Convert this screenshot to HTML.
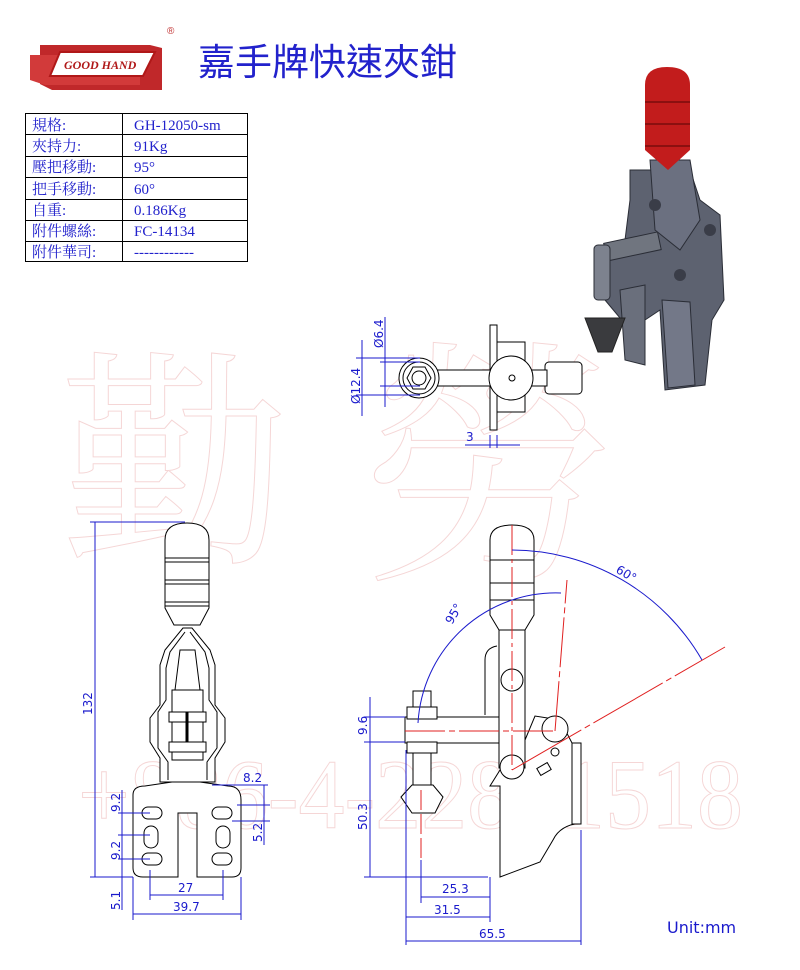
<!DOCTYPE html>
<html><head><meta charset="utf-8"><style>
body{margin:0;background:#fff;}
svg{display:block}
</style></head><body>
<svg width="800" height="970" viewBox="0 0 800 970" xmlns="http://www.w3.org/2000/svg">
<!-- watermark -->
<g fill="none" stroke="#f5d6d6" stroke-width="1">
<text x="78" y="828" font-family="Liberation Serif, serif" font-size="100" textLength="665" lengthAdjust="spacingAndGlyphs">+886-4-22801518</text>
<text x="60" y="545" font-family="Liberation Serif, 'Noto Serif CJK SC', serif" font-size="230">勤</text>
<text x="360" y="560" font-family="Liberation Serif, 'Noto Serif CJK SC', serif" font-size="260">勞</text>
</g>
<!-- logo -->
<g>
<path d="M40 45 H150 L162 48 V90 H52 L40 84 Z" fill="#c0282a"/>
<path d="M30 55 H140 V85 H45 L30 80 Z" fill="#d23a3a"/>
<path d="M60 52 H155 L143 76 H50 Z" fill="#fff" stroke="#b01818" stroke-width="2"/>
<text x="64" y="69" font-family="Liberation Serif, serif" font-style="italic" font-weight="bold" font-size="12" fill="#b01818">GOOD HAND</text>
<text x="167" y="34" font-family="Liberation Sans, sans-serif" font-size="10" fill="#c03030">®</text>
</g>
<text x="198" y="75" font-family="'Liberation Sans','Noto Sans CJK TC',sans-serif" font-size="37" fill="#2222cc">嘉手牌快速夾鉗</text>
<!-- table -->
<g stroke="#000" stroke-width="1" fill="none">
<rect x="25.5" y="113.5" width="222" height="148"/>
<line x1="122.5" y1="113" x2="122.5" y2="262"/>
<line x1="25" y1="134.5" x2="248" y2="134.5"/>
<line x1="25" y1="156.5" x2="248" y2="156.5"/>
<line x1="25" y1="177.5" x2="248" y2="177.5"/>
<line x1="25" y1="199.5" x2="248" y2="199.5"/>
<line x1="25" y1="220.5" x2="248" y2="220.5"/>
<line x1="25" y1="241.5" x2="248" y2="241.5"/>
</g>
<g font-family="'Liberation Serif','Noto Serif CJK SC',serif" font-size="15" fill="#2222cc">
<text x="32" y="130">規格:</text><text x="134" y="130">GH-12050-sm</text>
<text x="32" y="151">夾持力:</text><text x="134" y="151">91Kg</text>
<text x="32" y="172">壓把移動:</text><text x="134" y="172">95°</text>
<text x="32" y="194">把手移動:</text><text x="134" y="194">60°</text>
<text x="32" y="215">自重:</text><text x="134" y="215">0.186Kg</text>
<text x="32" y="236">附件螺絲:</text><text x="134" y="236">FC-14134</text>
<text x="32" y="257">附件華司:</text><text x="134" y="257">------------</text>
</g>
<!-- photo -->
<g>
<path d="M630 170 L690 170 L700 200 L720 215 L724 300 L712 320 L705 385 L665 390 L660 310 L630 330 L605 300 L600 250 L625 240 L630 200 Z" fill="#5d6270" stroke="#2a2d36"/>
<path d="M620 290 L645 285 L645 365 L625 360 Z" fill="#6a6f7c" stroke="#2a2d36"/>
<path d="M662 300 L690 302 L695 385 L668 388 Z" fill="#737888" stroke="#2a2d36"/>
<rect x="605" y="238" width="55" height="18" fill="#70757f" stroke="#2a2d36" transform="rotate(-12 630 247)"/>
<rect x="594" y="245" width="16" height="55" rx="4" fill="#7d828e" stroke="#2a2d36"/>
<path d="M585 318 L625 318 L612 352 L598 352 Z" fill="#3a3b3e" stroke="#222"/>
<path d="M650 160 L690 160 L700 220 L680 250 L655 230 Z" fill="#6b7080" stroke="#2a2d36"/>
<path d="M645 85 Q645 67 667 67 Q690 67 690 85 V150 L668 170 L645 150 Z" fill="#c21c1c"/>
<g stroke="#7a0c0c" stroke-width="1.5"><line x1="645" y1="102" x2="690" y2="102"/><line x1="645" y1="124" x2="690" y2="124"/><line x1="645" y1="146" x2="690" y2="146"/></g>
<circle cx="655" cy="205" r="6" fill="#3a3d48"/><circle cx="680" cy="275" r="6" fill="#3a3d48"/><circle cx="710" cy="230" r="6" fill="#3a3d48"/>
</g>
<!-- top view -->
<g stroke="#000" stroke-width="1" fill="#fff">
<rect x="490" y="325" width="7" height="105"/>
<rect x="497" y="342" width="28" height="70"/>
<rect x="545" y="362" width="37" height="32" rx="4"/>
<rect x="435" y="370" width="112" height="16"/>
<circle cx="419" cy="378" r="20"/>
<circle cx="419" cy="378" r="16"/>
<polygon points="431,378 425,367 413,367 407,378 413,389 425,389"/>
<circle cx="419" cy="378" r="7"/>
<circle cx="511" cy="378" r="22"/>
<circle cx="512" cy="378" r="3"/>
</g>
<g stroke="#1a1acc" stroke-width="1" fill="none">
<line x1="362" y1="340" x2="362" y2="416"/><line x1="356" y1="358" x2="420" y2="358"/><line x1="356" y1="395" x2="420" y2="395"/>
<line x1="385" y1="317" x2="385" y2="407"/><line x1="380" y1="362" x2="420" y2="362"/><line x1="380" y1="386" x2="420" y2="386"/>
<line x1="490" y1="435" x2="490" y2="448"/><line x1="497" y1="435" x2="497" y2="448"/>
<line x1="465" y1="445" x2="520" y2="445"/>
</g>
<g font-family="'DejaVu Sans',sans-serif" font-size="12" fill="#1a1acc">
<text transform="translate(383,348) rotate(-90)">Ø6.4</text>
<text transform="translate(360,404) rotate(-90)">Ø12.4</text>
<text x="466" y="441">3</text>
</g>
<!-- front view -->
<g stroke="#000" stroke-width="1" fill="#fff">
<path d="M133 795 Q133 786 145 786 L172 782 L200 782 L228 786 Q241 786 241 800 V868 Q241 877 232 877 H197 V813 H178 V877 H143 Q133 877 133 868 Z"/>
<path d="M183 628 L165 650 L160 665 V705 L150 718 V742 L160 758 V782 L215 782 V758 L225 742 V718 L215 705 V665 L210 650 L192 628 Z"/>
<path d="M185 632 L170 652 L166 668 V700 L158 712 V748 L168 762 V780 M190 632 L205 652 L209 668 V700 L217 712 V748 L207 762 V780"/>
<path d="M180 650 H195 L200 690 H175 Z"/>
<rect x="172" y="690" width="31" height="70"/>
<rect x="169" y="712" width="37" height="10"/><rect x="169" y="742" width="37" height="10"/>
<line x1="187" y1="712" x2="187" y2="742" stroke-width="3"/>
<path d="M165 540 Q165 523 187 523 Q209 523 209 540 V608 L200 625 H174 L165 608 Z"/>
<line x1="165" y1="558" x2="209" y2="558"/><line x1="165" y1="562" x2="209" y2="562"/>
<line x1="165" y1="580" x2="209" y2="580"/><line x1="165" y1="584" x2="209" y2="584"/>
<line x1="165" y1="602" x2="209" y2="602"/><line x1="165" y1="606" x2="209" y2="606"/>
<rect x="142" y="807" width="20" height="12" rx="6"/><rect x="212" y="807" width="20" height="12" rx="6"/>
<rect x="144" y="826" width="14" height="22" rx="7"/><rect x="216" y="826" width="14" height="22" rx="7"/>
<rect x="142" y="853" width="20" height="12" rx="6"/><rect x="212" y="853" width="20" height="12" rx="6"/>
</g>
<g stroke="#1a1acc" stroke-width="1" fill="none">
<line x1="95" y1="522" x2="95" y2="877"/><line x1="90" y1="522" x2="185" y2="522"/><line x1="90" y1="877" x2="133" y2="877"/>
<line x1="122" y1="790" x2="122" y2="910"/>
<line x1="118" y1="813" x2="150" y2="813"/><line x1="118" y1="835" x2="150" y2="835"/><line x1="118" y1="859" x2="150" y2="859"/>
<line x1="150" y1="870" x2="150" y2="900"/><line x1="223" y1="870" x2="223" y2="900"/>
<line x1="150" y1="895" x2="223" y2="895"/>
<line x1="133" y1="877" x2="133" y2="920"/><line x1="241" y1="877" x2="241" y2="920"/>
<line x1="133" y1="914" x2="241" y2="914"/>
<line x1="212" y1="785" x2="268" y2="785"/><line x1="237" y1="805" x2="270" y2="805"/><line x1="232" y1="821" x2="270" y2="821"/>
<line x1="264" y1="785" x2="264" y2="845"/>
</g>
<g font-family="'DejaVu Sans',sans-serif" font-size="12" fill="#1a1acc">
<text transform="translate(92,715) rotate(-90)">132</text>
<text transform="translate(120,812) rotate(-90)">9.2</text>
<text transform="translate(120,860) rotate(-90)">9.2</text>
<text transform="translate(120,910) rotate(-90)">5.1</text>
<text x="178" y="892">27</text><text x="173" y="911">39.7</text>
<text x="243" y="782">8.2</text>
<text transform="translate(262,842) rotate(-90)">5.2</text>
</g>
<!-- side view -->
<g stroke="#000" stroke-width="1" fill="#fff">
<path d="M490 786 H500 V877 L540 862 L553 840 Q560 825 581 823 V743 L572 743 L560 720 L535 716 L525 740 L525 760 L500 770 Z"/>
<rect x="572" y="743" width="9" height="81"/>
<rect x="405" y="717" width="95" height="26"/>
<path d="M485 715 V660 Q485 648 497 646"/>
<rect x="499" y="618" width="26" height="150"/>
<path d="M490 540 Q490 525 512 525 Q534 525 534 540 V615 L525 630 H499 L490 615 Z"/>
<line x1="490" y1="560" x2="534" y2="560"/><line x1="490" y1="583" x2="534" y2="583"/><line x1="490" y1="600" x2="534" y2="600"/>
<circle cx="512" cy="680" r="11"/>
<circle cx="512" cy="767" r="12"/>
<circle cx="555" cy="729" r="13"/>
<circle cx="555" cy="752" r="4"/>
<rect x="538" y="765" width="12" height="8" transform="rotate(-30 544 769)"/>
<rect x="413" y="691" width="18" height="17"/>
<rect x="407" y="707" width="30" height="12"/>
<rect x="407" y="742" width="30" height="11"/>
<rect x="413" y="753" width="18" height="32"/>
<path d="M401 797 L412 785 H433 L443 797 L435 813 H412 Z"/>
</g>
<g stroke="#e02020" stroke-width="1" fill="none">
<line x1="512" y1="525" x2="512" y2="770" stroke-dasharray="30 4 4 4"/>
<line x1="405" y1="731" x2="555" y2="731" stroke-dasharray="40 4 6 4"/>
<line x1="512" y1="770" x2="725" y2="647" stroke-dasharray="80 4 6 4"/>
<line x1="555" y1="731" x2="567" y2="580" stroke-dasharray="50 4 6 4"/>
<line x1="421" y1="790" x2="421" y2="860" stroke-dasharray="20 4"/>
</g>
<g stroke="#1a1acc" stroke-width="1" fill="none">
<path d="M512 550 A220 220 0 0 1 702 660"/>
<path d="M561 593 A138 138 0 0 0 418 723"/>
<line x1="370" y1="697" x2="370" y2="877"/>
<line x1="364" y1="717" x2="405" y2="717"/><line x1="364" y1="742" x2="405" y2="742"/>
<line x1="364" y1="877" x2="488" y2="877"/>
<line x1="421" y1="860" x2="421" y2="903"/><line x1="406" y1="750" x2="406" y2="945"/>
<line x1="490" y1="877" x2="490" y2="922"/><line x1="581" y1="830" x2="581" y2="945"/>
<line x1="421" y1="897" x2="490" y2="897"/>
<line x1="406" y1="917" x2="490" y2="917"/>
<line x1="406" y1="941" x2="581" y2="941"/>
</g>
<g font-family="'DejaVu Sans',sans-serif" font-size="12" fill="#1a1acc">
<text transform="translate(367,735) rotate(-90)">9.6</text>
<text transform="translate(367,830) rotate(-90)">50.3</text>
<text x="442" y="893">25.3</text><text x="434" y="914">31.5</text><text x="479" y="938">65.5</text>
<text transform="translate(452,625) rotate(-60)">95°</text>
<text transform="translate(615,572) rotate(30)">60°</text>
<text x="667" y="933" font-size="16">Unit:mm</text>
</g>
</svg>
</body></html>
